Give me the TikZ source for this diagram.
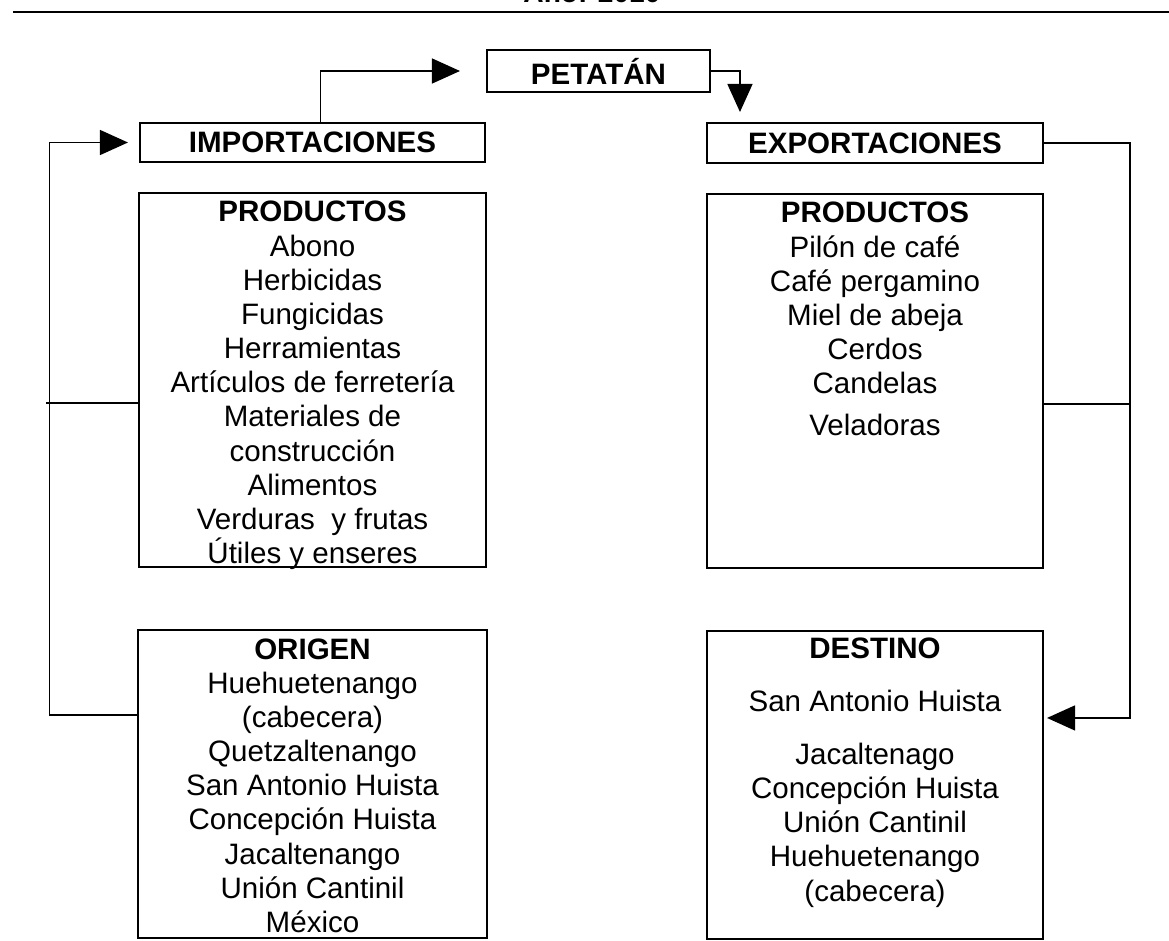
\documentclass[tikz,border=0pt]{standalone}
\usepackage{fontspec}
\setmainfont{Liberation Sans}
\usepackage{tikz}
\usetikzlibrary{arrows.meta, positioning}

\begin{document}
\begin{tikzpicture}[
    x=0.025cm, y=-0.025cm,
    node distance=0.775cm,
    hdr/.style={rectangle, draw, line width=1.4pt, inner sep=0pt, outer sep=0pt,
                font={\fontsize{21}{24.3}\selectfont\bfseries}},
    frame/.style={rectangle, draw, line width=1.4pt, inner sep=0pt, outer sep=0pt},
    list/.style={align=center, inner sep=0pt,
                 font={\fontsize{21}{24.3}\selectfont}},
    line/.style={line width=1pt},
    arr/.style={-{Triangle[length=0.7cm, width=0.625cm]}, line width=1pt}
]
  \useasboundingbox (0,0) rectangle (1169,940);
  \clip (0,0) rectangle (1169,940);
  \fill[white] (0,0) rectangle (1169,940);

  % cabecera cortada de la hoja
  \node[anchor=base, inner sep=0pt, font={\fontsize{20}{24}\selectfont\bfseries}]
    (anio) at (592,2) {Año: 2010};
  \draw[line width=1.2pt] (13,12) -- (1169,12);

  % encabezados
  \node[hdr, minimum width=5.575cm, minimum height=1.05cm]  (pet) at (598.5,71) {PETATÁN};
  \node[hdr, minimum width=8.625cm, minimum height=0.975cm] (imp) at (312.5,142.5) {IMPORTACIONES};
  \node[hdr, minimum width=8.4cm, minimum height=1.0cm]     (exp) at (875,143) {EXPORTACIONES};

  % recuadros
  \node[frame, minimum width=8.675cm, minimum height=9.35cm, below=of imp] (impprod) {};
  \node[frame, minimum width=8.7cm, minimum height=7.69cm, below=1.575cm of impprod] (orig) {};
  \node[frame, minimum width=8.375cm, minimum height=9.35cm, below=of exp] (expprod) {};
  \node[frame, minimum width=8.4cm, minimum height=7.69cm, below=1.575cm of expprod] (dest) {};

  % contenido
  \node[list, below=0.2cm of impprod.north] (impprodtxt) {\textbf{PRODUCTOS}\\
    Abono\\ Herbicidas\\ Fungicidas\\ Herramientas\\ Artículos de ferretería\\
    Materiales de\\ construcción\\ Alimentos\\ Verduras\ \ y frutas\\ Útiles y enseres};
  \node[list, below=0.2cm of orig.north] (origtxt) {\textbf{ORIGEN}\\
    Huehuetenango\\ (cabecera)\\ Quetzaltenango\\ San Antonio Huista\\
    Concepción Huista\\ Jacaltenango\\ Unión Cantinil\\ México};
  \node[list, below=0.2cm of expprod.north] (expprodtxt) {\textbf{PRODUCTOS}\\
    Pilón de café\\ Café pergamino\\ Miel de abeja\\ Cerdos\\ Candelas\\[5.7pt]
    Veladoras};
  \node[list, below=0.15cm of dest.north] (desttxt) {\textbf{DESTINO}\\[13.5pt]
    San Antonio Huista\\[13.5pt] Jacaltenago\\ Concepción Huista\\
    Unión Cantinil\\ Huehuetenango\\ (cabecera)};

  % flujos
  \draw[arr] ([xshift=0.2cm]imp.north) |- ([xshift=-0.675cm]pet.west);
  \draw[arr] (pet.east) -| ([xshift=-3.375cm, yshift=0.275cm]exp.north);
  \draw[arr] (exp.east) -- ++(87,0) |- ([xshift=0.1cm, yshift=1.675cm]dest.east);
  \draw[line] ([yshift=-0.575cm]expprod.east) -- ++(88,0);
  \draw[arr] ([yshift=1.725cm]orig.west) -- ++(-89,0) |- ([xshift=-0.3cm]imp.west);
  \draw[line] ([yshift=-0.575cm]impprod.west) -- ++(-93,0);
\end{tikzpicture}
\end{document}
